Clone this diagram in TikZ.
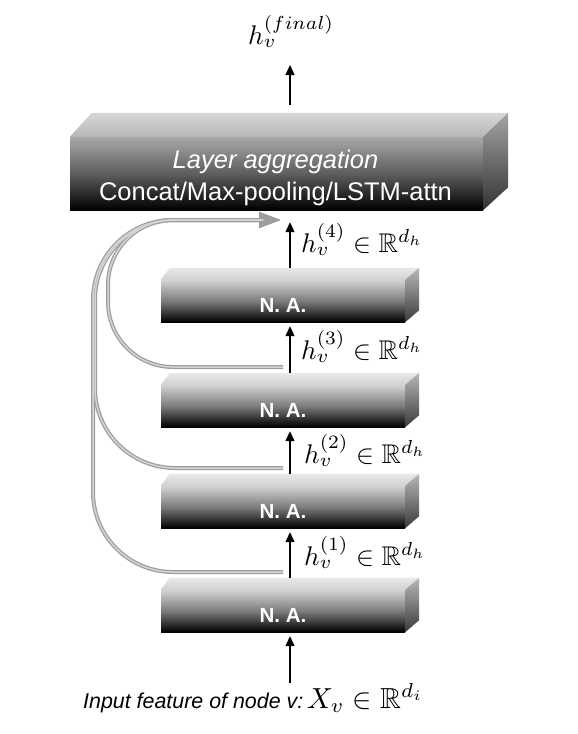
\documentclass[tikz,border=0pt]{standalone}
\usepackage[no-math]{fontspec}
\setmainfont{Liberation Sans}
\usepackage{amssymb}
\usepackage{graphicx}
\usetikzlibrary{arrows.meta,calc}
\definecolor{tubeoc}{HTML}{9E9E9E}
\definecolor{tubeic}{HTML}{D4D4D4}
\definecolor{nafronttop}{HTML}{D2D2D2}
\definecolor{namid}{HTML}{7C7C7C}
\definecolor{natopback}{HTML}{E8E8E8}
\definecolor{natopfront}{HTML}{D0D0D0}
\definecolor{nasidetop}{HTML}{B8B8B8}
\definecolor{nasidebot}{HTML}{3A3A3A}
\definecolor{aggfronttop}{HTML}{A8A8A8}
\definecolor{aggmid}{HTML}{5E5E5E}
\definecolor{aggtopback}{HTML}{D8D8D8}
\definecolor{aggtopfront}{HTML}{B6B6B6}
\definecolor{aggsidetop}{HTML}{A4A4A4}
\definecolor{aggsidebot}{HTML}{333333}
\newcommand{\NAbox}[2]{%
  \node[nafront] (#1) at (283,#2) {N. A.};
  \shade[top color=natopback,bottom color=natopfront]
    (#1.north west) -- ++(9,-12) -- ($(#1.north east)+(14,-12)$) -- (#1.north east) -- cycle;
  \shade[top color=nasidetop,bottom color=nasidebot]
    (#1.north east) -- ++(14,-12) -- ($(#1.south east)+(14,-12)$) -- (#1.south east) -- cycle;
}
\newcommand{\mbig}[2][2.7]{{\fontsize{10}{12}\selectfont\scalebox{#1}{$#2$}}}
\begin{document}
\begin{tikzpicture}[x=1pt,y=-1pt,
  nafront/.style={minimum width=244pt,minimum height=42pt,inner sep=0pt,
    top color=nafronttop,bottom color=black,middle color=namid,
    text=white,font=\fontsize{20.5}{24}\selectfont\bfseries,text height=22pt,text depth=0pt},
  aggfront/.style={minimum width=413pt,minimum height=73pt,inner sep=0pt,
    top color=aggfronttop,bottom color=black,middle color=aggmid},
  aggtxt/.style={text=white,inner sep=0pt,anchor=base,font=\fontsize{25.5}{30}\selectfont},
  mlab/.style={inner sep=0pt,anchor=base west},
  arr/.style={line width=1.3pt,-{Triangle[length=10pt,width=9pt]}},
  tubeout/.style={draw=tubeoc,line width=4pt},
  tubein/.style={draw=tubeic,line width=1.5pt}]
\useasboundingbox[fill=white] (0,0) rectangle (578,734);

% aggregation box
\node[aggfront] (agg) at (276.5,173.5) {};
\shade[top color=aggtopback,bottom color=aggtopfront]
  (agg.north west) -- ++(22,-24) -- ($(agg.north east)+(25,-24)$) -- (agg.north east) -- cycle;
\shade[top color=aggsidetop,bottom color=aggsidebot]
  (agg.north east) -- ++(25,-24) -- ($(agg.south east)+(25,-23)$) -- (agg.south east) -- cycle;
\node[aggtxt] (aggt1) at ($(agg.center)+(-1,-5.5)$) {\itshape Layer aggregation};
\node[aggtxt] (aggt2) at ($(agg.center)+(-1,26.5)$) {Concat/Max-pooling/LSTM-attn};

% N.A. boxes
\NAbox{b4}{301}
\NAbox{b3}{406}
\NAbox{b2}{507}
\NAbox{b1}{611}

% labels
\node[mlab] (fin) at (248,44) {\mbig{h_v^{(final)}}};
\node[mlab] (l4) at (301,252) {\mbig{h_v^{(4)} \in \mathbb{R}^{d_h}}};
\node[mlab] (l3) at (301,359) {\mbig{h_v^{(3)} \in \mathbb{R}^{d_h}}};
\node[mlab] (l2) at (304,463) {\mbig{h_v^{(2)} \in \mathbb{R}^{d_h}}};
\node[mlab] (l1) at (304,565) {\mbig{h_v^{(1)} \in \mathbb{R}^{d_h}}};
\node[inner sep=0pt,anchor=base west,font=\fontsize{21.4}{26}\selectfont] (inp) at (83,708)
  {\itshape Input feature of node v:\,\mbig[2.9]{X_v \in \mathbb{R}^{d_i}}};

% black arrows
\coordinate (ax) at (290,0);
\coordinate (inarr) at (290,683);
\coordinate (finarr) at (290,65);
\draw[arr,shorten >=4pt] (inarr) -- (b1.south -| ax);
\draw[arr,shorten >=4pt] ([yshift=12pt]b1.north -| ax) -- (b2.south -| ax);
\draw[arr,shorten >=4pt] ([yshift=12pt]b2.north -| ax) -- (b3.south -| ax);
\draw[arr,shorten >=4pt] ([yshift=12pt]b3.north -| ax) -- (b4.south -| ax);
\draw[arr,shorten >=12pt] ([yshift=12pt]b4.north -| ax) -- (agg.south -| ax);
\draw[arr,shorten <=8pt] ([yshift=24pt]agg.north -| ax) -- (finarr);

% grey skip connections
\coordinate (g3) at (283,367);
\coordinate (g2) at (283,468);
\coordinate (g1) at (283,572);
\coordinate (gend) at (281,220);
\foreach \s/\xx/\r in {g1/93/80,g2/95/80,g3/108/65}{
  \draw[tubeout,rounded corners=\r pt,-{Triangle[length=22pt,width=15pt]}]
    (\s) -- (\s -| \xx,0) -- (\xx,0 |- gend) -- (gend);
}
\foreach \s/\xx/\r in {g1/93/80,g2/95/80,g3/108/65}{
  \draw[tubein,rounded corners=\r pt,shorten >=18pt]
    (\s) -- (\s -| \xx,0) -- (\xx,0 |- gend) -- (gend);
}
\end{tikzpicture}
\end{document}
